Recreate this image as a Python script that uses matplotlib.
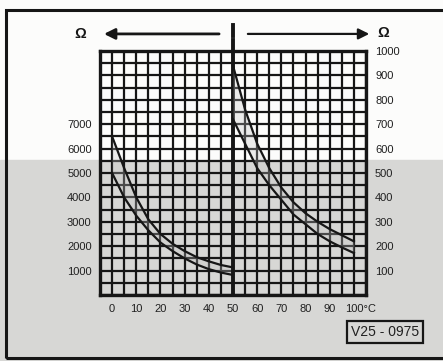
import numpy as np
import matplotlib.pyplot as plt
from matplotlib.patches import Rectangle
from matplotlib.transforms import ScaledTranslation, blended_transform_factory

plt.rcParams['font.family'] = ['Liberation Sans', 'DejaVu Sans']

# =========================
# DATA
# =========================

# 0..50 °C, left scale (Ω)
temp_low = [0, 5, 10, 15, 20, 25, 30, 35, 40, 45, 50]
ohm_low_max = [6500, 5200, 4000, 3100, 2500, 2100, 1800, 1550, 1380, 1230, 1130]
ohm_low_min = [5000, 4000, 3250, 2650, 2150, 1800, 1500, 1250, 1060, 920, 820]

# 50..100 °C, right scale (Ω)
temp_high = [50, 55, 60, 65, 70, 75, 80, 85, 90, 95, 100]
ohm_high_max = [940, 760, 620, 520, 440, 380, 335, 300, 270, 245, 220]
ohm_high_min = [720, 620, 520, 450, 390, 330, 290, 250, 220, 195, 172]

x_ticks = [0, 10, 20, 30, 40, 50, 60, 70, 80, 90, 100]
x_labels = ["0", "10", "20", "30", "40", "50", "60", "70", "80", "90", "100°C"]
left_ticks = [1000, 2000, 3000, 4000, 5000, 6000, 7000]
right_ticks = [100, 200, 300, 400, 500, 600, 700, 800, 900, 1000]

ink = "#161616"
paper_grey = "#d7d7d5"

# =========================
# FIGURE
# =========================

fig = plt.figure(figsize=(4.43, 3.61), dpi=100)
fig.patch.set_facecolor("#fcfcfb")

# lower part of the scan is greyish
fig.patches.append(Rectangle((0, 0), 1, (361 - 160) / 361, transform=fig.transFigure,
                             color=paper_grey, zorder=-5))
# outer frame
fig.patches.append(Rectangle((6 / 443, 1 - 358 / 361), (470 - 6) / 443, (358 - 10) / 361,
                             transform=fig.transFigure, fill=False, ec=ink, lw=2.2,
                             clip_on=False, zorder=5))

ax = fig.add_axes([100 / 443, 66 / 361, 266 / 443, 244 / 361])
ax.set_facecolor("none")
ax.set_xlim(-5, 105)
ax.set_ylim(0, 10000)

ax.set_xticks(x_ticks, x_labels)
ax.set_xticks(np.arange(-5, 106, 5), minor=True)
ax.set_yticks(left_ticks, [str(v) for v in left_ticks])
ax.set_yticks(np.arange(0, 10001, 500), minor=True)
ax.grid(which="both", color=ink, lw=1.6)
ax.set_axisbelow(True)
ax.tick_params(which="both", length=0, labelsize=8, colors="#202020")
ax.tick_params(axis="y", pad=6)
ax.tick_params(axis="x", pad=6.5)
for s in ax.spines.values():
    s.set_linewidth(2.4)
    s.set_color(ink)

lab = ax.get_xticklabels()[-1]
lab.set_ha("left")
lab.set_transform(lab.get_transform() + ScaledTranslation(-0.09, 0, fig.dpi_scale_trans))

ax2 = ax.twinx()
ax2.set_facecolor("none")
ax2.set_ylim(0, 1000)
ax2.set_yticks(right_ticks, [str(v) for v in right_ticks])
ax2.tick_params(length=0, labelsize=8, colors="#202020", pad=6.5)
for s in ax2.spines.values():
    s.set_visible(False)

# centre divider, running up above the grid (small break near the arrows)
ax.axvline(50, ymin=0, ymax=1.045, color=ink, lw=2.8, clip_on=False, zorder=3)
ax.axvline(50, ymin=1.06, ymax=1.107, color=ink, lw=2.8, clip_on=False, zorder=3)

# curves
ax.fill_between(temp_low, ohm_low_min, ohm_low_max, color="#c4c4c4", alpha=0.3, lw=0)
ax.plot(temp_low, ohm_low_max, color=ink, lw=1.6)
ax.plot(temp_low, ohm_low_min, color=ink, lw=1.6)
ax2.fill_between(temp_high, ohm_high_min, ohm_high_max, color="#c4c4c4", alpha=0.3, lw=0)
ax2.plot(temp_high, ohm_high_max, color=ink, lw=1.6)
ax2.plot(temp_high, ohm_high_min, color=ink, lw=1.6)

# arrows and Ω headers
trans = blended_transform_factory(ax.transData, ax.transAxes)
ax.annotate("", xy=(-4.5, 1.07), xytext=(45.4, 1.07), xycoords=trans, textcoords=trans,
            arrowprops=dict(arrowstyle="-|>", lw=2.0, color=ink, mutation_scale=16))
ax.annotate("", xy=(107.5, 1.07), xytext=(55, 1.07), xycoords=trans, textcoords=trans,
            arrowprops=dict(arrowstyle="-|>", lw=1.6, color=ink, mutation_scale=16))
ax.text(-13.3, 1.07, "Ω", transform=trans, fontsize=10.5, fontweight="bold",
        ha="center", va="center", color=ink)
ax.text(112.2, 1.075, "Ω", transform=trans, fontsize=10.5, fontweight="bold",
        ha="center", va="center", color=ink)

fig.text(385 / 443, 1 - 332 / 361, "V25 - 0975", fontsize=10, ha="center", va="center",
         color="#202020",
         bbox=dict(boxstyle="square,pad=0.3", fc="none", ec=ink, lw=1.6))

fig.savefig("out.png", dpi=100)
